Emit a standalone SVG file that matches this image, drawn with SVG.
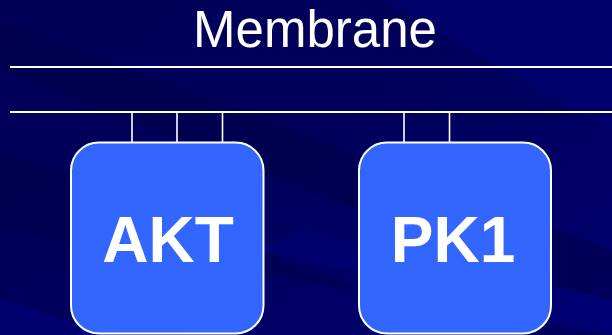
<svg xmlns="http://www.w3.org/2000/svg" width="612" height="335" viewBox="0 0 612 335">
  <defs>
    <linearGradient id="bg" x1="0" y1="0" x2="1" y2="1">
      <stop offset="0" stop-color="#000058"/>
      <stop offset="0.5" stop-color="#00005c"/>
      <stop offset="1" stop-color="#000070"/>
    </linearGradient>
    <style>
      .rule { stroke: #ffffff; stroke-width: 2; fill: none; }
      .tether { stroke: #ffffff; stroke-width: 1.6; fill: none; }
      .box { fill: #3366ff; stroke: #ffffff; stroke-width: 2; }
      .label { font-family: "Liberation Sans", Arial, sans-serif; font-weight: bold; font-size: 64px; fill: #ffffff; text-anchor: middle; }
      .title { font-family: "Liberation Sans", Arial, sans-serif; font-size: 51px; fill: #ffffff; text-anchor: middle; }
    </style>
  </defs>

  <!-- background with soft diagonal bands -->
  <rect x="0" y="0" width="612" height="335" fill="url(#bg)"/>
  <g opacity="0.5">
    <polygon points="0,20 0,70 612,310 612,250" fill="#000048"/>
    <polygon points="0,150 0,230 612,335 480,335" fill="#00004a"/>
    <polygon points="0,300 0,335 120,335" fill="#000080"/>
    <polygon points="380,0 612,0 612,130" fill="#000078"/>
    <polygon points="260,250 612,330 612,300 300,230" fill="#00007a"/>
  </g>

  <!-- title -->
  <text class="title" x="315" y="47">Membrane</text>

  <!-- membrane lines and tethers -->
  <g id="connectors">
    <line class="rule" x1="10" y1="67" x2="612" y2="67"/>
    <line class="rule" x1="10" y1="112" x2="612" y2="112"/>
    <line class="tether" x1="132" y1="112" x2="132" y2="143"/>
    <line class="tether" x1="177" y1="112" x2="177" y2="143"/>
    <line class="tether" x1="222.5" y1="112" x2="222.5" y2="143"/>
    <line class="tether" x1="404" y1="112" x2="404" y2="143"/>
    <line class="tether" x1="449.5" y1="112" x2="449.5" y2="143"/>
  </g>

  <g id="akt">
    <rect class="box" x="71" y="142.5" width="192.5" height="191" rx="28" ry="28"/>
    <text class="label" x="168" y="262">AKT</text>
  </g>

  <g id="pk1">
    <rect class="box" x="359" y="142.5" width="192" height="191" rx="28" ry="28"/>
    <text class="label" x="453" y="262">PK1</text>
  </g>
</svg>
